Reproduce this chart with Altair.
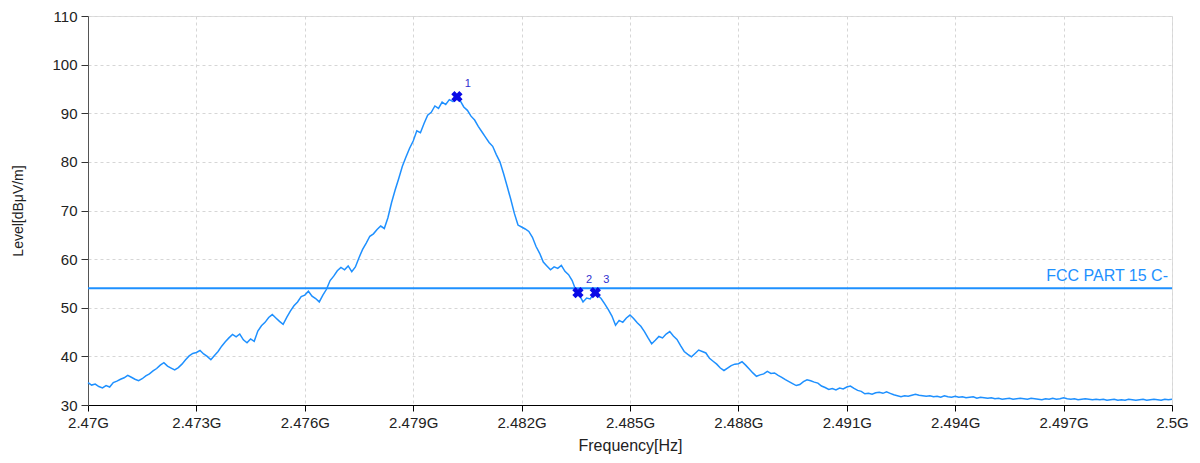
import altair as alt
import numpy as np
import pandas as pd

# Measured level trace, one value every 0.1 MHz from 2.470 GHz to 2.500 GHz
levels = [
    34.6, 34.1, 34.3, 33.8, 33.5, 34.0, 33.7, 34.6, 34.9, 35.3,
    35.6, 36.1, 35.7, 35.3, 35.0, 35.4, 36.0, 36.4, 37.0, 37.5,
    38.2, 38.7, 38.0, 37.6, 37.2, 37.7, 38.4, 39.3, 40.1, 40.6,
    40.8, 41.2, 40.5, 40.0, 39.3, 40.2, 41.0, 42.1, 43.0, 43.8,
    44.5, 44.0, 44.6, 43.4, 42.8, 43.6, 43.1, 45.2, 46.3, 47.0,
    48.0, 48.6, 47.9, 47.2, 46.6, 48.0, 49.3, 50.4, 51.2, 52.3,
    52.6, 53.4, 52.4, 51.9, 51.2, 52.6, 53.8, 55.6, 56.5, 57.6,
    58.3, 57.8, 58.6, 57.4, 58.4, 60.3, 62.0, 63.3, 64.7, 65.2,
    66.1, 66.8, 66.3, 68.5, 71.6, 74.2, 76.6, 79.1, 81.0, 82.8,
    84.3, 86.4, 86.0, 87.9, 89.6, 90.2, 91.5, 91.0, 92.3, 91.8,
    92.8, 92.4, 93.4, 92.6, 91.3, 90.6, 89.4, 88.6, 87.3, 86.2,
    85.1, 84.0, 83.2, 81.5, 80.0, 77.6, 75.0, 72.3, 69.4, 67.0,
    66.6, 66.2, 65.7, 64.5, 62.6, 61.2, 59.4, 58.6, 57.8, 58.4,
    58.1, 58.7, 57.5, 56.8, 55.6, 53.6, 52.6, 51.2, 52.0, 51.8,
    53.0, 52.6, 51.9, 50.8, 49.6, 48.3, 46.4, 47.4, 47.0, 47.9,
    48.5, 47.8, 46.9, 46.2, 45.1, 43.8, 42.6, 43.3, 44.1, 43.8,
    44.6, 45.1, 44.2, 43.5, 42.2, 41.0, 40.4, 39.9, 40.6, 41.3,
    41.0, 40.7, 39.6, 39.0, 38.4, 37.6, 37.1, 37.6, 38.1, 38.4,
    38.5, 38.9, 38.2, 37.4, 36.6, 35.9, 36.2, 36.4, 36.9, 36.5,
    36.6, 36.1, 35.7, 35.2, 34.8, 34.4, 34.0, 34.2, 34.8, 35.2,
    35.0, 34.7, 34.5, 33.9, 33.6, 33.2, 33.4, 33.1, 33.5, 33.3,
    33.7, 33.9, 33.4, 33.0, 32.8, 32.3, 32.4, 32.2, 32.5, 32.6,
    32.4, 32.7, 32.4, 32.1, 31.9, 31.7, 31.9, 31.8, 32.0, 32.2,
    32.0, 31.9, 31.8, 31.9, 31.7, 31.8, 31.6, 31.9, 31.7, 31.6,
    31.8, 31.6, 31.7, 31.5, 31.6, 31.7, 31.4, 31.6, 31.5, 31.4,
    31.5, 31.3, 31.4, 31.2, 31.3, 31.4, 31.2, 31.3, 31.4, 31.3,
    31.2, 31.4, 31.3, 31.2, 31.1, 31.3, 31.2, 31.4, 31.2, 31.3,
    31.5, 31.3, 31.2, 31.3, 31.1, 31.2, 31.3, 31.2, 31.1, 31.2,
    31.1, 31.2, 31.0, 31.1, 31.2, 31.0, 31.1, 31.0, 31.2, 31.1,
    31.0, 31.1, 31.2, 31.0, 31.1, 31.2, 31.1, 31.0, 31.2, 31.1, 31.2,
]
freq_start_ghz = 2.470
freq_stop_ghz = 2.500

marker_ids = ["1", "2", "3"]
marker_freq_ghz = [2.48021, 2.48356, 2.48404]
marker_level = [93.4, 53.1, 53.1]

limit_level = 54
limit_label = "FCC PART 15 C-"

x_ticks = [2.470, 2.473, 2.476, 2.479, 2.482, 2.485, 2.488, 2.491, 2.494, 2.497, 2.500]
y_ticks = [30, 40, 50, 60, 70, 80, 90, 100, 110]

freq = np.linspace(freq_start_ghz, freq_stop_ghz, len(levels))
trace_df = pd.DataFrame({"f": freq, "level": levels})
marker_df = pd.DataFrame({"id": marker_ids, "f": marker_freq_ghz, "level": marker_level})
limit_df = pd.DataFrame({"level": [limit_level], "label": [limit_label], "f": [freq_stop_ghz]})

TRACE = "#1e90ff"
FONT = "Liberation Sans"

x_enc = alt.X(
    "f:Q",
    scale=alt.Scale(domain=[freq_start_ghz, freq_stop_ghz], nice=False, zero=False),
    axis=alt.Axis(
        values=x_ticks,
        labelExpr="format(datum.value, '.3~f') + 'G'",
        title="Frequency[Hz]",
        grid=True,
        gridDash=[3, 3],
        gridColor="#d6d6d6",
        tickSize=6,
        tickColor="#000",
        domainColor="#000",
        labelFontSize=15,
        labelColor="#222",
        labelPadding=4,
        titleFontSize=16,
        titleFontWeight="normal",
        titleColor="#222",
        titlePadding=7,
        labelFlush=False,
    ),
)
y_enc = alt.Y(
    "level:Q",
    scale=alt.Scale(domain=[30, 110], nice=False, zero=False),
    axis=alt.Axis(
        values=y_ticks,
        title="Level[dBμV/m]",
        grid=True,
        gridDash=[3, 3],
        gridColor="#d6d6d6",
        tickSize=7,
        tickColor="#333",
        domainColor="#555",
        labelFontSize=15,
        labelColor="#222",
        labelPadding=4,
        titleFontSize=14,
        titleFontWeight="normal",
        titleColor="#222",
        titlePadding=26,
    ),
)

trace = alt.Chart(trace_df).mark_line(color=TRACE, strokeWidth=1.5).encode(x=x_enc, y=y_enc)

limit_rule = alt.Chart(limit_df).mark_rule(color=TRACE, strokeWidth=2).encode(y="level:Q")
limit_text = alt.Chart(limit_df).mark_text(
    color=TRACE, align="right", baseline="bottom", dx=-4, dy=-4, fontSize=16, font=FONT
).encode(x="f:Q", y="level:Q", text="label:N")

markers = alt.Chart(marker_df).mark_point(
    shape="cross", angle=45, filled=True, size=130, color="#0a0ae6", opacity=1
).encode(x="f:Q", y="level:Q")
marker_text = alt.Chart(marker_df).mark_text(
    color="#3030d0", align="center", baseline="bottom", dx=11, dy=-8, fontSize=11, font=FONT
).encode(x="f:Q", y="level:Q", text="id:N")

chart = (
    alt.layer(trace, limit_rule, limit_text, markers, marker_text)
    .properties(
        width=1084,
        height=389,
        autosize=alt.AutoSizeParams(type="none"),
        padding={"left": 80, "top": 8, "right": 20, "bottom": 50},
        background="white",
    )
    .configure_view(strokeWidth=0)
    .configure(font=FONT)
)

chart.save("out.html", embed_options={"renderer": "svg", "actions": False})
